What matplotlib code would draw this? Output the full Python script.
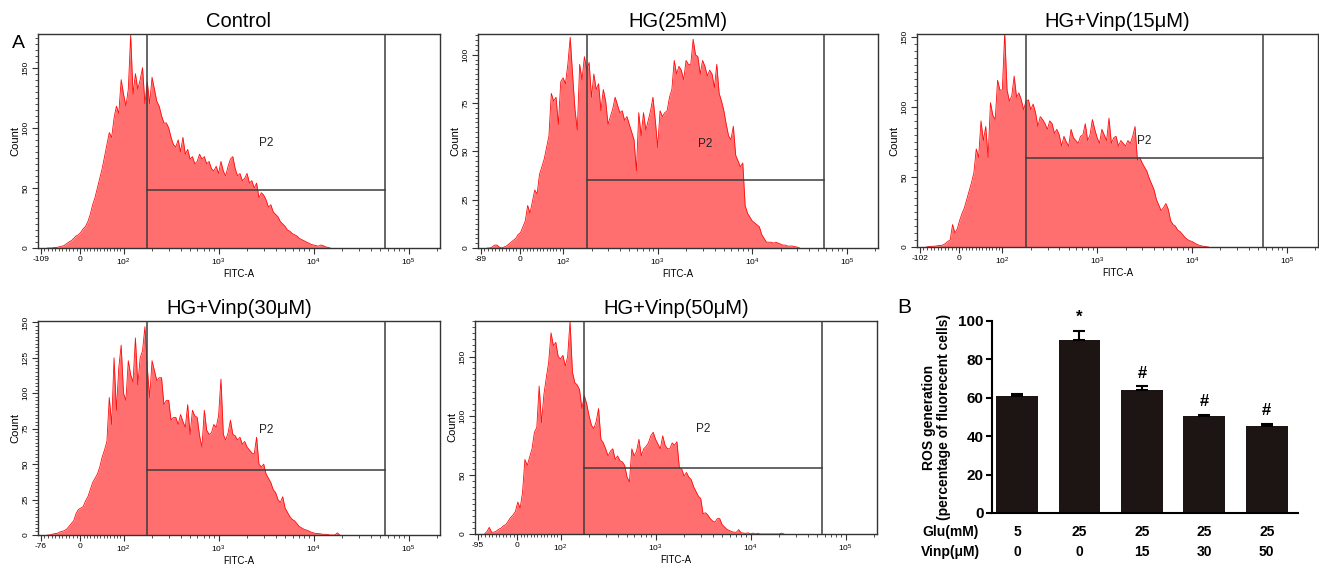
import matplotlib
matplotlib.use("Agg")
import matplotlib.pyplot as plt
import numpy as np
from matplotlib.ticker import FixedLocator, MultipleLocator

plt.rcParams['font.family'] = ['Liberation Sans', 'DejaVu Sans']
plt.rcParams['mathtext.fontset'] = 'custom'
plt.rcParams['mathtext.rm'] = 'Liberation Sans'
plt.rcParams['mathtext.it'] = 'Liberation Sans:italic'

W, H = 1319, 568

# histogram channels in display units of the biexponential axis (2 -> 10^2, 3 -> 10^3 ...)
U0 = 1.2
STEP = 0.025

titles = ["Control", "HG(25mM)", "HG+Vinp(15μM)", "HG+Vinp(30μM)", "HG+Vinp(50μM)"]
neg_labels = ["-109", "-89", "-102", "-76", "-95"]
y_max = [178, 110.7, 152, 151, 180]
y_major = [50, 25, 50, 25, 50]
gate_y = [48, 35, 63.6, 45.6, 56]
p2_y = [87, 54, 75.5, 74, 89]

counts_control = [
    0, 0, 0, 0.5, 0.5, 1, 1.5, 2, 3.5, 5,
    6, 8, 10, 11, 13, 16, 18, 22, 28, 36,
    42, 50, 58, 66, 76, 86, 96, 92, 108, 118,
    112, 140, 128, 118, 132, 177, 128, 145, 132, 140,
    150, 120, 138, 120, 142, 132, 122, 118, 110, 104,
    104, 100, 92, 86, 84, 90, 80, 92, 78, 82,
    74, 76, 70, 72, 78, 74, 76, 70, 72, 66,
    64, 68, 62, 72, 64, 60, 68, 74, 76, 66,
    60, 62, 56, 58, 62, 54, 56, 50, 54, 42,
    46, 44, 40, 34, 36, 30, 28, 26, 22, 20,
    18, 15, 14, 12, 11, 10, 8, 7, 6, 5,
    4, 3, 2.5, 2, 1.5, 2.5, 2, 1, 0.5, 0]

counts_hg = [
    0, 0, 0.5, 1.5, 1.5, 0.5, 0, 0.5, 1, 2,
    3, 4, 5, 7, 8, 11, 14, 22, 18, 24,
    30, 28, 38, 42, 46, 52, 58, 80, 76, 78,
    64, 86, 88, 85, 95, 109, 90, 72, 61, 95,
    87, 99, 92, 96, 78, 90, 82, 85, 71, 82,
    76, 64, 68, 72, 78, 74, 70, 71, 66, 68,
    64, 60, 56, 40, 70, 58, 70, 61, 66, 71,
    78, 66, 52, 71, 68, 70, 71, 78, 82, 97,
    90, 94, 92, 87, 97, 95, 95, 108, 100, 99,
    90, 97, 94, 89, 92, 90, 83, 95, 80, 76,
    71, 64, 58, 56, 63, 48, 45, 42, 44, 22,
    18, 16, 14, 13, 12, 11, 7, 5, 3, 3,
    3, 2.5, 3, 2.5, 2, 1.5, 1.5, 1, 1, 1,
    0.7, 0.5, 0]

counts_v15 = [
    0, 0.3, 0.5, 0.5, 0.7, 1, 1, 1.5, 2.5, 4,
    5, 16, 10, 13, 19, 24, 28, 34, 40, 46,
    53, 70, 64, 90, 76, 86, 64, 103, 94, 91,
    119, 112, 112, 153, 112, 104, 108, 122, 107, 110,
    105, 98, 104, 105, 98, 102, 96, 86, 93, 91,
    88, 84, 90, 88, 81, 84, 80, 72, 79, 75,
    72, 84, 78, 76, 74, 79, 80, 88, 76, 80,
    91, 84, 78, 74, 84, 80, 76, 92, 74, 78,
    79, 72, 76, 74, 72, 76, 74, 79, 86, 62,
    64, 60, 57, 54, 49, 45, 41, 34, 30, 26,
    28, 31, 27, 19, 16, 15, 12, 11, 9, 7,
    5.5, 4.5, 4, 3, 2, 1.3, 0.8, 0.5, 0.2, 0]

counts_v30 = [
    0, 0, 0.5, 1, 1, 2, 2.5, 3, 4, 6,
    8, 10, 15, 18, 19, 20, 24, 27, 32, 37,
    40, 43, 48, 55, 60, 66, 97, 78, 125, 88,
    118, 134, 100, 95, 123, 113, 108, 139, 106, 125,
    130, 147, 118, 97, 123, 116, 109, 111, 111, 92,
    95, 95, 81, 83, 83, 78, 85, 80, 76, 92,
    71, 88, 84, 83, 70, 62, 88, 74, 71, 72,
    78, 76, 84, 110, 71, 67, 72, 81, 71, 70,
    67, 69, 64, 66, 62, 60, 58, 57, 69, 50,
    48, 50, 43, 40, 37, 32, 30, 25, 23, 27,
    19, 16, 13, 11, 10, 8, 6, 5, 4, 3.5,
    2.8, 2, 1.5, 1, 1, 0.8, 0.5, 0.5, 0.3, 0,
    0, 0, 1.5, 0]

counts_v50 = [
    0, 2, 5.6, 1.5, 1.5, 2.5, 4, 5, 7, 8,
    11, 14, 16, 19, 27, 22, 35, 63, 58, 65,
    72, 86, 90, 125, 94, 118, 132, 145, 170, 159,
    162, 150, 148, 151, 142, 150, 180, 137, 128, 126,
    122, 106, 117, 110, 100, 92, 89, 95, 106, 80,
    77, 72, 66, 70, 72, 63, 66, 62, 61, 58,
    48, 44, 72, 66, 70, 80, 66, 72, 74, 77,
    83, 86, 80, 76, 72, 83, 75, 72, 72, 77,
    75, 78, 56, 55, 49, 52, 48, 46, 40, 36,
    32, 30, 17, 18, 16, 13, 11, 10, 13, 13,
    8, 6, 4, 3, 2, 1.5, 1.5, 3.7, 1, 0.8,
    0.5, 1, 0, 0.8, 0, 0.6, 0, 0, 0, 0,
    0, 0, 0, 0, 0, 0.8, 0]

hist_counts = [counts_control, counts_hg, counts_v15, counts_v30, counts_v50]

# panel B
glu = [5, 25, 25, 25, 25]
vinp = [0, 0, 15, 30, 50]
ros_mean = [61, 90, 64, 50.5, 45.5]
ros_err = [1, 5, 2, 0.8, 0.8]
sig = ["", "*", "#", "#", "#"]

FILL = '#ff6f6f'
EDGE = '#ff0c0c'
GATE = '#3c3c3c'
BAR = '#1d1513'


def box(l, t, r, b):
    return [l / W, 1 - b / H, (r - l) / W, (b - t) / H]


hist_boxes = [box(38, 34, 440, 248), box(478, 34, 878, 248), box(917, 34, 1318, 247),
              box(38, 321, 440, 535), box(475, 321, 877, 534)]

fig = plt.figure(figsize=(W / 100, H / 100), dpi=100)

gate_lo, gate_hi = 2.25, 4.755
zero_u = 1.544
major_x = [1.13, zero_u, 2, 3, 4, 5]
minor_x = list(np.linspace(1.13, zero_u, 12)[1:-1]) + list(np.linspace(zero_u, 2, 14)[1:-1])
minor_x += [d + np.log10(k) for d in (2, 3, 4, 5) for k in range(2, 10) if d + np.log10(k) < 5.33]

for k, counts in enumerate(hist_counts):
    ax = fig.add_axes(hist_boxes[k])
    c = np.array(counts, dtype=float)
    u = U0 + STEP * np.arange(len(c))
    ax.fill_between(u, 0, c, color=FILL, lw=0, zorder=1)
    ax.plot(u, c, color=EDGE, lw=0.6, zorder=2)
    ax.set_xlim(1.10, 5.33)
    ax.set_ylim(0, y_max[k])

    ax.axvline(gate_lo, color=GATE, lw=1.1, zorder=3)
    ax.axvline(gate_hi, color=GATE, lw=1.1, zorder=3)
    ax.plot([gate_lo, gate_hi], [gate_y[k], gate_y[k]], color=GATE, lw=1.1, zorder=3)
    ax.text(3.5, p2_y[k], 'P2', fontsize=8.5, ha='center', va='center', color='#222222')

    ax.set_title(titles[k], fontsize=14.5, pad=5)

    ax.xaxis.set_major_locator(FixedLocator(major_x))
    ax.xaxis.set_minor_locator(FixedLocator(minor_x))
    ax.set_xticklabels([neg_labels[k], '0', '$10^2$', '$10^3$', '$10^4$', '$10^5$'])
    ax.yaxis.set_major_locator(MultipleLocator(y_major[k]))
    ax.yaxis.set_minor_locator(MultipleLocator(y_major[k] / 10))
    ax.tick_params(which='major', length=4, width=0.8, color='#333333', labelsize=6, pad=2)
    ax.tick_params(which='minor', length=2.2, width=0.6, color='#333333')
    ax.tick_params(axis='y', labelrotation=90)
    for lab in ax.get_yticklabels():
        lab.set_va('center')
    for sp in ax.spines.values():
        sp.set_color('#333333')
        sp.set_linewidth(1.0)
    ax.set_xlabel('FITC-A', fontsize=7, labelpad=1)
    ax.set_ylabel('Count', fontsize=8, labelpad=2)

fig.text(12 / W, 1 - 48 / H, 'A', fontsize=14, va='baseline')
fig.text(897 / W, 1 - 313 / H, 'B', fontsize=15, va='baseline')

# bar chart
axb = fig.add_axes(box(992, 321, 1298, 513))
x = np.arange(len(ros_mean))
axb.bar(x, ros_mean, width=0.67, color=BAR, zorder=2)
axb.errorbar(x, ros_mean, yerr=[np.zeros(len(x)), ros_err], fmt='none', ecolor='black',
             elinewidth=1.5, capsize=4.5, capthick=1.5, zorder=3)
axb.set_xlim(-0.40, 4.50)
axb.set_ylim(0, 100)
axb.set_yticks(range(0, 101, 20))
axb.set_xticks([])
axb.spines['top'].set_visible(False)
axb.spines['right'].set_visible(False)
axb.spines['left'].set_linewidth(1.5)
axb.spines['bottom'].set_linewidth(1.5)
axb.tick_params(axis='y', length=4, width=1.5, labelsize=11, pad=2)
for lab in axb.get_yticklabels():
    lab.set_fontweight('bold')
axb.set_ylabel('ROS generation\n(percentage of fluorecent cells)', fontsize=10,
               fontweight='bold', labelpad=5, linespacing=1.15)

for i in range(len(x)):
    if sig[i]:
        axb.text(x[i], ros_mean[i] + ros_err[i] + 3, sig[i], ha='center', va='bottom',
                 fontsize=12, fontweight='bold')

trans = axb.get_xaxis_transform()
axb.text(-1.07, -0.099, 'Glu(mM)', transform=trans, ha='center', va='center',
         fontsize=10, fontweight='bold', clip_on=False)
axb.text(-1.07, -0.203, 'Vinp(μM)', transform=trans, ha='center', va='center',
         fontsize=10, fontweight='bold', clip_on=False)
for i in range(len(x)):
    axb.text(x[i], -0.099, str(glu[i]), transform=trans, ha='center', va='center',
             fontsize=10, fontweight='bold', clip_on=False)
    axb.text(x[i], -0.203, str(vinp[i]), transform=trans, ha='center', va='center',
             fontsize=10, fontweight='bold', clip_on=False)

fig.savefig('out.png', dpi=100)
